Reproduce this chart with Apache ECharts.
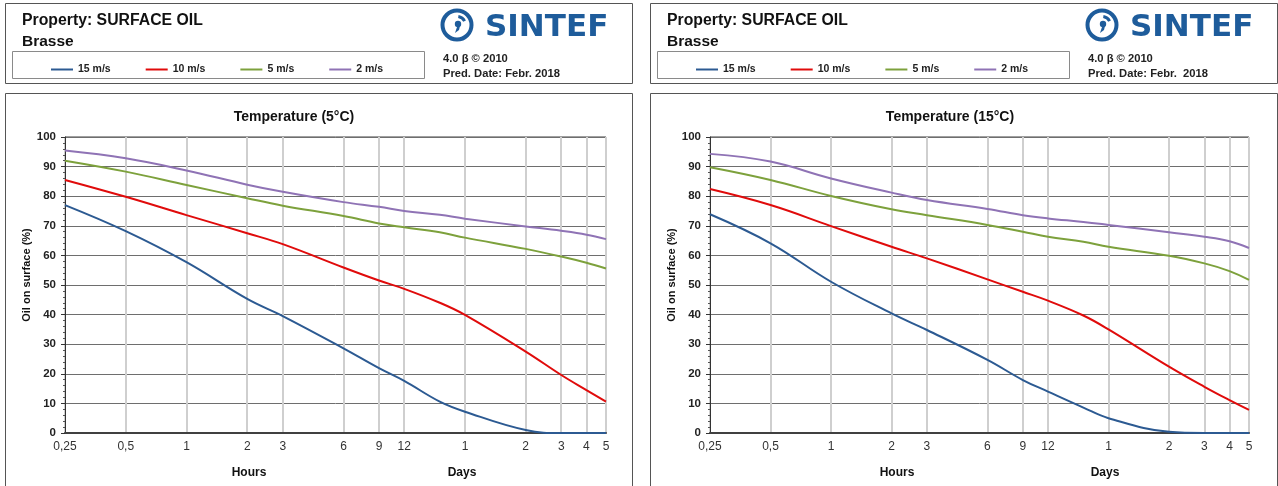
<!DOCTYPE html>
<html><head><meta charset="utf-8">
<script src="https://cdn.jsdelivr.net/npm/echarts@6/dist/echarts.min.js"></script>
<style>html,body{margin:0;padding:0;background:#fff}#c{width:1278px;height:486px}</style>
</head><body><div id="c"></div>
<script>
// ---- data (hours since release) ----
const hours = [0.25, 0.5, 1, 2, 3, 6, 9, 12, 18, 24, 48, 72, 96, 120];
const tickValues = [0.25, 0.5, 1, 2, 3, 6, 9, 12, 24, 48, 72, 96, 120];
const tickLabels = ['0,25', '0,5', '1', '2', '3', '6', '9', '12', '1', '2', '3', '4', '5'];
const seriesNames = ['15 m/s', '10 m/s', '5 m/s', '2 m/s'];
const panelTitles = ['Temperature (5°C)', 'Temperature (15°C)'];
const predDates = ['Pred. Date: Febr. 2018', 'Pred. Date: Febr.  2018'];
// 5 °C
const t5_w15 = [77.0, 68.2, 57.7, 45.3, 39.5, 28.6, 21.9, 17.6, 10.6, 7.2, 1.0, 0, 0, 0];
const t5_w10 = [85.5, 79.8, 73.6, 67.5, 63.8, 55.9, 51.5, 48.7, 44.0, 39.9, 27.5, 19.6, 14.5, 10.6];
const t5_w5  = [92.0, 88.3, 83.8, 79.3, 76.8, 73.3, 70.8, 69.5, 67.8, 66.0, 62.2, 59.6, 57.5, 55.6];
const t5_w2  = [95.4, 92.8, 88.7, 83.9, 81.5, 78.0, 76.4, 75.0, 73.7, 72.4, 69.8, 68.3, 67.0, 65.5];
// 15 °C
const t15_w15 = [73.9, 64.1, 51.1, 40.4, 34.8, 24.7, 17.9, 14.0, 8.6, 5.0, 0.4, 0, 0, 0];
const t15_w10 = [82.4, 77.0, 69.9, 62.9, 59.0, 51.9, 47.7, 44.7, 39.7, 35.0, 22.4, 15.6, 11.1, 7.8];
const t15_w5  = [89.8, 85.5, 80.1, 75.6, 73.6, 70.3, 68.0, 66.3, 64.6, 62.9, 59.9, 57.3, 54.7, 51.7];
const t15_w2  = [94.3, 91.7, 86.0, 81.2, 78.7, 75.7, 73.6, 72.5, 71.3, 70.3, 67.8, 66.3, 64.8, 62.5];

const panels = [[t5_w15, t5_w10, t5_w5, t5_w2], [t15_w15, t15_w10, t15_w5, t15_w2]];
const colors = ['#2c5a92', '#e00b0b', '#7da13c', '#8f73b5'];
const FONT = '"Liberation Sans", Arial, sans-serif';
const LOGO = '#1e5c9b';

function tickLabel(v) {
  let best = 0, bd = Infinity;
  tickValues.forEach((t, i) => { const d = Math.abs(Math.log(v) - Math.log(t)); if (d < bd) { bd = d; best = i; } });
  return tickLabels[best];
}

const P = [ // panel layout
  { ox: 0, gl: 65, gw: 541 },
  { ox: 645, gl: 710, gw: 539 }
];

const grids = [], xAxes = [], yAxes = [], series = [], legends = [], graphics = [];
P.forEach((p, k) => {
  grids.push({ left: p.gl, top: 137, width: p.gw, height: 296, show: true, borderColor: '#404040', borderWidth: 1, backgroundColor: 'transparent' });
  xAxes.push({
    gridIndex: k, type: 'log', logBase: 10, min: 0.25, max: 120,
    axisLine: { show: true, onZero: false, lineStyle: { color: '#404040', width: 2 } },
    axisTick: { show: false, customValues: tickValues },
    axisLabel: { customValues: tickValues, formatter: tickLabel, color: '#333', fontSize: 12, fontFamily: FONT, margin: 8 },
    splitLine: { show: true, lineStyle: { color: '#cfcfcf', width: 2 } },
    minorTick: { show: false }, minorSplitLine: { show: false }
  });
  yAxes.push({
    gridIndex: k, type: 'value', min: 0, max: 100, interval: 10,
    axisLine: { show: true, lineStyle: { color: '#333', width: 1 } },
    axisTick: { show: true, length: 4, lineStyle: { color: '#333' } },
    minorTick: { show: true, splitNumber: 5, length: 2, lineStyle: { color: '#555' } },
    splitLine: { show: true, lineStyle: { color: '#6e6e6e', width: 1 } },
    axisLabel: { fontWeight: 'bold', fontSize: 11.5, color: '#222', fontFamily: FONT, margin: 9 },
    name: 'Oil on surface (%)', nameLocation: 'middle', nameGap: 31,
    nameTextStyle: { fontWeight: 'bold', fontSize: 11, color: '#111', fontFamily: FONT, padding: [0, 0, 0, 20] }
  });
  panels[k].forEach((vals, i) => {
    series.push({
      name: seriesNames[i], type: 'line', xAxisIndex: k, yAxisIndex: k,
      data: hours.map((h, j) => [h, vals[j]]),
      smooth: 0.4, showSymbol: false, symbol: 'none',
      lineStyle: { color: colors[i], width: 2 }, itemStyle: { color: colors[i] },
      z: 3 + i
    });
  });
  legends.push({
    left: p.ox + 46, top: 59, itemWidth: 22, itemHeight: 2, itemGap: 35, icon: 'rect',
    data: seriesNames, selectedMode: false,
    textStyle: { fontWeight: 'bold', fontSize: 10.5, color: '#222', fontFamily: FONT }
  });
  const ox = p.ox;
  // boxes
  graphics.push({ type: 'rect', z: -1, shape: { x: ox + 5.5, y: 3.5, width: 627, height: 80 }, style: { fill: '#fff', stroke: '#555', lineWidth: 1 } });
  graphics.push({ type: 'rect', z: -1, shape: { x: ox + 12.5, y: 51.5, width: 412, height: 27 }, style: { fill: '#fff', stroke: '#8a8a8a', lineWidth: 1 } });
  graphics.push({ type: 'rect', z: -1, shape: { x: ox + 5.5, y: 93.5, width: 627, height: 400 }, style: { fill: '#fff', stroke: '#555', lineWidth: 1 } });
  // header texts
  graphics.push({ type: 'text', left: ox + 22, top: 13, style: { text: 'Property: SURFACE OIL', font: 'bold 15.8px ' + FONT, fill: '#111' } });
  graphics.push({ type: 'text', left: ox + 22, top: 34, style: { text: 'Brasse', font: 'bold 15.5px ' + FONT, fill: '#111' } });
  graphics.push({ type: 'text', left: ox + 443, top: 53, style: { text: '4.0 β © 2010', font: 'bold 11.2px ' + FONT, fill: '#222' } });
  graphics.push({ type: 'text', left: ox + 443, top: 68, style: { text: predDates[k], font: 'bold 11.2px ' + FONT, fill: '#222' } });
  // logo
  const cx = ox + 457, cy = 25;
  graphics.push({ type: 'circle', shape: { cx: cx, cy: cy, r: 14.5 }, style: { fill: 'none', stroke: LOGO, lineWidth: 4 } });
  graphics.push({ type: 'arc', shape: { cx: cx, cy: cy, r: 8.5, startAngle: -Math.PI * 0.15, endAngle: Math.PI * 1.55, clockwise: false }, style: { fill: 'none', stroke: LOGO, lineWidth: 3 } });
  graphics.push({ type: 'circle', shape: { cx: cx + 1, cy: cy - 1, r: 3.2 }, style: { fill: LOGO } });
  graphics.push({ type: 'polygon', shape: { points: [[cx + 3.5, cy - 1], [cx + 2, cy + 5], [cx - 2, cy + 8], [cx, cy + 2]] }, style: { fill: LOGO } });
  graphics.push({ type: 'text', left: ox + 485, top: 12, style: { text: 'SINTEF', font: 'bold 31px "DejaVu Sans", sans-serif', fill: LOGO } });
  // chart title and axis group labels
  const tx = k === 0 ? 294 : 950;
  graphics.push({ type: 'text', x: tx, y: 117, style: { text: panelTitles[k], font: 'bold 14px ' + FONT, fill: '#111', align: 'center', verticalAlign: 'middle' } });
  graphics.push({ type: 'text', x: k === 0 ? 249 : 897, y: 473, style: { text: 'Hours', font: 'bold 12px ' + FONT, fill: '#111', align: 'center', verticalAlign: 'middle' } });
  graphics.push({ type: 'text', x: k === 0 ? 462 : 1105, y: 473, style: { text: 'Days', font: 'bold 12px ' + FONT, fill: '#111', align: 'center', verticalAlign: 'middle' } });
});

const chart = echarts.init(document.getElementById('c'), null, { renderer: 'canvas' });
chart.setOption({
  animation: false,
  backgroundColor: '#fff',
  textStyle: { fontFamily: FONT },
  grid: grids, xAxis: xAxes, yAxis: yAxes, series: series, legend: legends,
  graphic: { elements: graphics }
});
</script></body></html>
